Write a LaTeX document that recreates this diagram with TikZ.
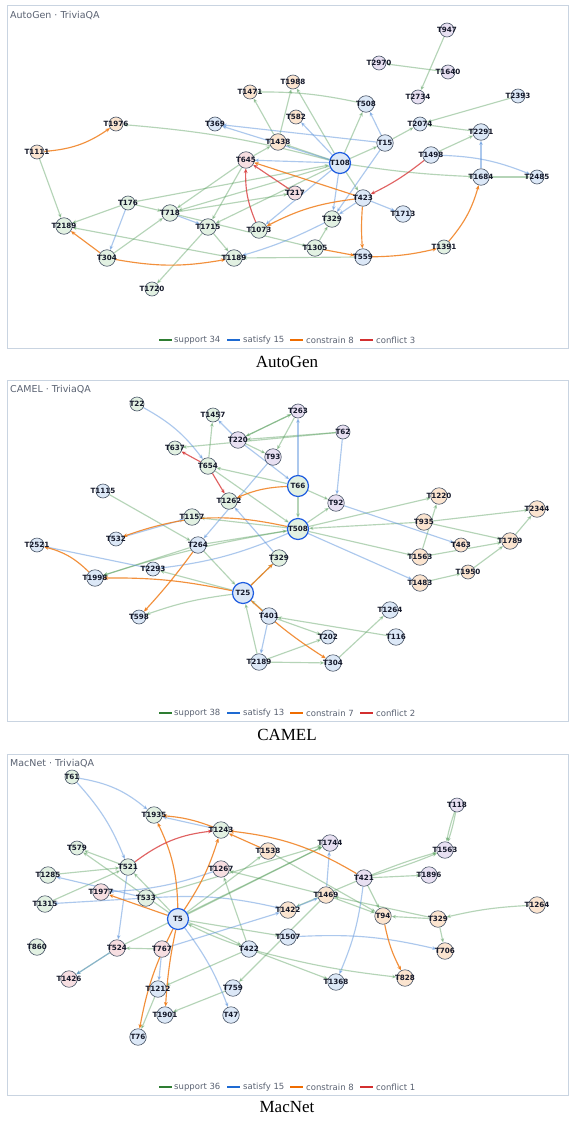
\documentclass[tikz,border=0pt]{standalone}
\usepackage{fontspec}
\usetikzlibrary{arrows.meta}
\newfontfamily\dvs{DejaVu Sans}
\newfontfamily\capf{Liberation Serif}
\definecolor{fg}{HTML}{E2F1E2}
\definecolor{fb}{HTML}{DCE8F7}
\definecolor{fo}{HTML}{FBE4CF}
\definecolor{fp}{HTML}{E8E0F2}
\definecolor{fk}{HTML}{F7DEE1}
\definecolor{ndb}{HTML}{4A5668}
\definecolor{hubb}{HTML}{1F5DE0}
\definecolor{txt}{HTML}{15192A}
\definecolor{csu}{HTML}{4F9A55}
\definecolor{csa}{HTML}{5B93DC}
\definecolor{cco}{HTML}{F07D1A}
\definecolor{ccf}{HTML}{D93B3B}
\definecolor{lsu}{HTML}{2E7D32}
\definecolor{lsa}{HTML}{1E6AD2}
\definecolor{lco}{HTML}{EF6C00}
\definecolor{lcf}{HTML}{D32F2F}
\definecolor{frm}{HTML}{C9D4E1}
\definecolor{gtx}{HTML}{5A6272}
\pgfdeclarelayer{back}
\pgfdeclarelayer{bg}
\pgfsetlayers{back,bg,main}
\tikzset{
 nd/.style={circle,draw=ndb,line width=0.6pt,minimum size=14pt,inner sep=0pt,text=txt,font=\dvs\bfseries\fontsize{7.2}{7}\selectfont},
 lg/.style={minimum size=16.5pt},
 hub/.style={draw=hubb,line width=1.2pt,minimum size=21pt},
 cg/.style={fill=fg}, cb/.style={fill=fb}, co/.style={fill=fo}, cp/.style={fill=fp}, ck/.style={fill=fk},
 edg/.style={line width=1.15pt,-{Stealth[length=4.5pt,width=3.8pt]}},
 sup/.style={edg,draw=csu,opacity=.42},
 sat/.style={edg,draw=csa,opacity=.5},
 con/.style={edg,draw=cco,opacity=.85},
 cfl/.style={edg,draw=ccf,opacity=.8},
 frame/.style={draw=frm,line width=1pt,fill=white},
 ttl/.style={anchor=base west,inner sep=0pt,text=gtx,font=\dvs\fontsize{9.5}{10}\selectfont},
 captxt/.style={inner sep=0pt,font=\capf\fontsize{17}{18}\selectfont},
 lgt/.style={anchor=west,inner sep=0pt,text=gtx,font=\dvs\fontsize{8.5}{9}\selectfont}
}
\newcommand\ND[4]{\node[nd,#1] (#2) at (#3) {\makebox[0pt]{#4}};}
\newcommand\E[4][]{\draw[#2] (#3) to[#1] (#4);}
\newcommand\legendrow[5]{%
 \draw[lsu,line width=2pt] (159,#1) -- (172,#1); \node[lgt] (lg#1a) at (174,#1) {support #2};
 \draw[lsa,line width=2pt] (227,#1) -- (240,#1); \node[lgt] (lg#1b) at (243,#1) {satisfy #3};
 \draw[lco,line width=2pt] (290,#1) -- (303,#1); \node[lgt] (lg#1c) at (306,#1) {constrain #4};
 \draw[lcf,line width=2pt] (360,#1) -- (373,#1); \node[lgt] (lg#1d) at (376,#1) {conflict #5};}
\begin{document}
\begin{tikzpicture}[x=1pt,y=-1pt]
\useasboundingbox (0,0) rectangle (574,1121);
\begin{pgfonlayer}{back}
\fill[white] (0,0) rectangle (574,1121);
\draw[frame] (7,6) rectangle (568,348);
\draw[frame] (7,380) rectangle (568,721);
\draw[frame] (7,754) rectangle (568,1095);
\end{pgfonlayer}
\node[ttl] (t1) at (10,19) {AutoGen · TriviaQA};
\node[ttl] (t2) at (10,392) {CAMEL · TriviaQA};
\node[ttl] (t3) at (10,766) {MacNet · TriviaQA};
\node[captxt] (c1) at (287,362) {AutoGen};
\node[captxt] (c2) at (287,735) {CAMEL};
\node[captxt] (c3) at (287,1107) {MacNet};
\legendrow{340}{34}{15}{8}{3}
\legendrow{713}{38}{13}{7}{2}
\legendrow{1087}{36}{15}{8}{1}

% ---------- Panel 1: AutoGen ----------
\ND{cp}{aT947}{447,30}{T947}
\ND{cp}{aT2970}{379,63}{T2970}
\ND{cp}{aT1640}{448,72}{T1640}
\ND{co}{aT1988}{293,82}{T1988}
\ND{co}{aT1471}{250,92}{T1471}
\ND{cp}{aT2734}{418,97}{T2734}
\ND{cb}{aT2393}{518,96}{T2393}
\ND{lg,cb}{aT508}{366,104}{T508}
\ND{co}{aT582}{296,117}{T582}
\ND{co}{aT1976}{116,124}{T1976}
\ND{cb}{aT369}{215,124}{T369}
\ND{cb}{aT2074}{420,124}{T2074}
\ND{lg,cb}{aT2291}{481,132}{T2291}
\ND{lg,co}{aT1438}{278,142}{T1438}
\ND{lg,cb}{aT15}{385,143}{T15}
\ND{co}{aT1111}{37,152}{T1111}
\ND{lg,cb}{aT1498}{431,155}{T1498}
\ND{lg,ck}{aT645}{246,160}{T645}
\ND{hub,cb}{aT108}{340,163}{T108}
\ND{lg,cb}{aT1684}{481,177}{T1684}
\ND{cb}{aT2485}{537,177}{T2485}
\ND{ck}{aT217}{295,193}{T217}
\ND{lg,cb}{aT423}{363,198}{T423}
\ND{cg}{aT176}{128,203}{T176}
\ND{lg,cg}{aT718}{170,213}{T718}
\ND{lg,cb}{aT1713}{403,214}{T1713}
\ND{lg,cg}{aT329}{332,219}{T329}
\ND{lg,cg}{aT2189}{64,226}{T2189}
\ND{lg,cg}{aT1715}{208,227}{T1715}
\ND{lg,cg}{aT1073}{259,230}{T1073}
\ND{lg,cg}{aT1305}{315,248}{T1305}
\ND{cg}{aT1391}{444,247}{T1391}
\ND{lg,cg}{aT304}{107,258}{T304}
\ND{lg,cg}{aT1189}{234,258}{T1189}
\ND{lg,cb}{aT559}{363,257}{T559}
\ND{cg}{aT1720}{152,289}{T1720}

% ---------- Panel 2: CAMEL ----------
\ND{cg}{bT22}{137,404}{T22}
\ND{cg}{bT1457}{213,415}{T1457}
\ND{cp}{bT263}{298,411}{T263}
\ND{cp}{bT62}{343,432}{T62}
\ND{lg,cp}{bT220}{238,440}{T220}
\ND{cg}{bT637}{175,448}{T637}
\ND{lg,cp}{bT93}{273,457}{T93}
\ND{lg,cg}{bT654}{208,466}{T654}
\ND{hub,cg}{bT66}{298,486}{T66}
\ND{cb}{bT1115}{103,491}{T1115}
\ND{lg,co}{bT1220}{439,496}{T1220}
\ND{lg,cg}{bT1262}{229,501}{T1262}
\ND{lg,cp}{bT92}{336,503}{T92}
\ND{lg,co}{bT2344}{537,509}{T2344}
\ND{lg,cg}{bT1157}{192,517}{T1157}
\ND{lg,co}{bT935}{424,522}{T935}
\ND{hub,cg}{bT508}{298,529}{T508}
\ND{cb}{bT532}{116,539}{T532}
\ND{lg,cb}{bT264}{198,545}{T264}
\ND{cb}{bT2521}{37,545}{T2521}
\ND{co}{bT463}{461,545}{T463}
\ND{lg,co}{bT1789}{510,541}{T1789}
\ND{lg,co}{bT1563}{420,557}{T1563}
\ND{lg,cg}{bT329}{279,558}{T329}
\ND{cb}{bT2293}{153,569}{T2293}
\ND{co}{bT1950}{468,572}{T1950}
\ND{lg,cb}{bT1998}{95,578}{T1998}
\ND{lg,co}{bT1483}{420,583}{T1483}
\ND{hub,cb}{bT25}{243,593}{T25}
\ND{lg,cb}{bT1264}{390,610}{T1264}
\ND{lg,cb}{bT401}{269,616}{T401}
\ND{cb}{bT598}{139,617}{T598}
\ND{cb}{bT202}{328,637}{T202}
\ND{lg,cb}{bT116}{396,637}{T116}
\ND{lg,cb}{bT2189}{259,662}{T2189}
\ND{lg,cb}{bT304}{333,663}{T304}

% ---------- Panel 3: MacNet ----------
\ND{cg}{cT61}{72,777}{T61}
\ND{cp}{cT118}{457,805}{T118}
\ND{lg,cg}{cT1935}{154,815}{T1935}
\ND{lg,cg}{cT1243}{221,830}{T1243}
\ND{lg,cp}{cT1744}{330,843}{T1744}
\ND{cg}{cT579}{77,848}{T579}
\ND{lg,cp}{cT1563}{445,850}{T1563}
\ND{lg,co}{cT1538}{268,851}{T1538}
\ND{lg,cg}{cT521}{128,867}{T521}
\ND{lg,ck}{cT1267}{221,869}{T1267}
\ND{lg,cg}{cT1285}{48,875}{T1285}
\ND{lg,cp}{cT1896}{429,875}{T1896}
\ND{lg,cp}{cT421}{364,878}{T421}
\ND{lg,ck}{cT1977}{101,892}{T1977}
\ND{lg,co}{cT1469}{326,895}{T1469}
\ND{lg,cg}{cT533}{146,898}{T533}
\ND{lg,cg}{cT1315}{45,904}{T1315}
\ND{lg,co}{cT1264}{537,905}{T1264}
\ND{lg,co}{cT1422}{288,910}{T1422}
\ND{lg,co}{cT94}{383,916}{T94}
\ND{hub,cb}{cT5}{178,919}{T5}
\ND{lg,co}{cT329}{438,919}{T329}
\ND{lg,cb}{cT1507}{288,937}{T1507}
\ND{lg,cg}{cT860}{37,947}{T860}
\ND{lg,ck}{cT524}{117,948}{T524}
\ND{lg,ck}{cT767}{162,949}{T767}
\ND{lg,cb}{cT422}{249,949}{T422}
\ND{lg,co}{cT706}{445,951}{T706}
\ND{lg,ck}{cT1426}{69,979}{T1426}
\ND{lg,co}{cT828}{405,978}{T828}
\ND{lg,cb}{cT1368}{336,982}{T1368}
\ND{lg,cb}{cT1212}{158,989}{T1212}
\ND{lg,cb}{cT759}{233,988}{T759}
\ND{lg,cb}{cT1901}{165,1015}{T1901}
\ND{lg,cb}{cT47}{231,1015}{T47}
\ND{lg,cb}{cT76}{138,1037}{T76}

\begin{pgfonlayer}{bg}
% Panel 1 edges
\E{sup}{aT947}{aT2734}
\E{sup}{aT1640}{aT2970}
\E{sup}{aT2393}{aT2074}
\E{sup}{aT2291}{aT2074}
\E{sup}{aT108}{aT15}
\E{sup}{aT15}{aT2074}
\E{sup}{aT1498}{aT2291}
\E[bend right=3]{sup}{aT108}{aT1684}
\E{sup}{aT1684}{aT2485}
\E[bend right=6]{sup}{aT508}{aT1471}
\E{sup}{aT1438}{aT1471}
\E{sup}{aT1438}{aT1988}
\E{sup}{aT108}{aT1988}
\E{sup}{aT108}{aT508}
\E{sup}{aT108}{aT1438}
\E[bend right=5]{sup}{aT108}{aT1976}
\E{sup}{aT1111}{aT2189}
\E{sup}{aT176}{aT2189}
\E{sup}{aT176}{aT718}
\E{sup}{aT304}{aT718}
\E{sup}{aT1189}{aT2189}
\E{sup}{aT1715}{aT1189}
\E{sup}{aT1715}{aT1720}
\E{sup}{aT645}{aT1715}
\E{sup}{aT108}{aT1715}
\E{sup}{aT645}{aT718}
\E{sup}{aT176}{aT108}
\E{sup}{aT718}{aT217}
\E{sup}{aT718}{aT1305}
\E{sup}{aT1305}{aT329}
\E{sup}{aT108}{aT423}
\E{sup}{aT559}{aT1189}
\E{sup}{aT645}{aT1438}
\E{sup}{aT108}{aT718}
\E{sat}{aT108}{aT369}
\E{sat}{aT15}{aT369}
\E{sat}{aT108}{aT582}
\E{sat}{aT15}{aT508}
\E{sat}{aT1684}{aT2291}
\E[bend left=10]{sat}{aT1498}{aT2485}
\E{sat}{aT176}{aT304}
\E{sat}{aT718}{aT1715}
\E[bend left=5]{sat}{aT329}{aT1189}
\E{sat}{aT15}{aT329}
\E{sat}{aT108}{aT329}
\E{sat}{aT423}{aT329}
\E{sat}{aT423}{aT1713}
\E{sat}{aT108}{aT1073}
\E{sat}{aT108}{aT645}
\E[bend right=15]{con}{aT1111}{aT1976}
\E{con}{aT304}{aT2189}
\E[bend right=10]{con}{aT304}{aT1189}
\E[bend right=4]{con}{aT423}{aT559}
\E[bend right=6]{con}{aT559}{aT1391}
\E[bend right=12]{con}{aT1391}{aT1684}
\E{con}{aT423}{aT645}
\E[bend right=10]{con}{aT423}{aT1073}
\E{con}{aT1305}{aT559}
\E[bend left=6]{cfl}{aT1498}{aT423}
\E{cfl}{aT217}{aT645}
\E[bend left=12]{cfl}{aT1073}{aT645}

% Panel 2 edges
\E{sup}{bT62}{bT220}
\E{sup}{bT62}{bT637}
\E{sup}{bT220}{bT263}
\E{sup}{bT263}{bT93}
\E{sup}{bT263}{bT220}
\E{sup}{bT654}{bT1457}
\E{sup}{bT220}{bT93}
\E{sup}{bT66}{bT654}
\E{sup}{bT654}{bT508}
\E{sup}{bT66}{bT92}
\E{sup}{bT66}{bT508}
\E{sup}{bT508}{bT92}
\E{sup}{bT508}{bT1220}
\E{sup}{bT935}{bT2344}
\E{sup}{bT935}{bT1789}
\E{sup}{bT935}{bT508}
\E{sup}{bT508}{bT1157}
\E{sup}{bT1563}{bT1220}
\E{sup}{bT1563}{bT1789}
\E{sup}{bT1950}{bT1789}
\E{sup}{bT1789}{bT2344}
\E{sup}{bT1483}{bT1950}
\E{sup}{bT508}{bT1563}
\E{sup}{bT1115}{bT264}
\E{sup}{bT264}{bT25}
\E{sup}{bT264}{bT1998}
\E{sup}{bT25}{bT2293}
\E[bend right=4]{sup}{bT508}{bT1998}
\E[bend right=6]{sup}{bT25}{bT598}
\E{sup}{bT25}{bT329}
\E{sup}{bT401}{bT25}
\E{sup}{bT2189}{bT25}
\E{sup}{bT401}{bT202}
\E{sup}{bT2189}{bT202}
\E{sup}{bT2189}{bT304}
\E{sup}{bT116}{bT401}
\E{sup}{bT304}{bT1264}
\E{sup}{bT264}{bT508}
\E[bend left=12]{sat}{bT22}{bT654}
\E{sat}{bT62}{bT92}
\E{sat}{bT66}{bT263}
\E{sat}{bT93}{bT264}
\E{sat}{bT329}{bT1262}
\E{sat}{bT532}{bT1157}
\E[bend left=8]{sat}{bT508}{bT2293}
\E{sat}{bT92}{bT463}
\E{sat}{bT508}{bT1483}
\E{sat}{bT401}{bT2189}
\E{sat}{bT220}{bT66}
\E{sat}{bT220}{bT1457}
\E{sat}{bT2293}{bT2521}
\E[bend right=10]{con}{bT66}{bT1262}
\E[bend right=16]{con}{bT508}{bT532}
\E[bend right=15]{con}{bT1998}{bT2521}
\E[bend right=6]{con}{bT25}{bT1998}
\E[bend left=3]{con}{bT264}{bT598}
\E{con}{bT25}{bT329}
\E[bend right=5]{con}{bT25}{bT304}
\E{cfl}{bT654}{bT637}
\E{cfl}{bT654}{bT1262}

% Panel 3 edges
\E[bend left=4]{sup}{cT118}{cT1563}
\E[bend right=4]{sup}{cT118}{cT1563}
\E[bend left=3]{sup}{cT421}{cT1563}
\E[bend right=3]{sup}{cT421}{cT1563}
\E{sup}{cT421}{cT1896}
\E[bend right=5]{sup}{cT1264}{cT329}
\E{sup}{cT329}{cT94}
\E{sup}{cT329}{cT706}
\E{sup}{cT329}{cT1469}
\E{sup}{cT1469}{cT94}
\E{sup}{cT421}{cT94}
\E{sup}{cT421}{cT1422}
\E{sup}{cT5}{cT1744}
\E{sup}{cT533}{cT1744}
\E{sup}{cT5}{cT1538}
\E{sup}{cT1469}{cT1267}
\E{sup}{cT521}{cT579}
\E{sup}{cT1285}{cT521}
\E{sup}{cT1315}{cT521}
\E{sup}{cT5}{cT521}
\E{sup}{cT5}{cT579}
\E[bend left=4]{sup}{cT422}{cT5}
\E[bend left=4]{sup}{cT5}{cT422}
\E{sup}{cT5}{cT1507}
\E{sup}{cT767}{cT524}
\E{sup}{cT524}{cT1426}
\E{sup}{cT422}{cT1212}
\E{sup}{cT1469}{cT759}
\E{sup}{cT759}{cT1901}
\E{sup}{cT1212}{cT76}
\E{sup}{cT422}{cT1368}
\E[bend right=4]{sup}{cT422}{cT828}
\E{sup}{cT422}{cT1267}
\E{sup}{cT524}{cT1744}
\E{sup}{cT1538}{cT94}
\E[bend left=15]{sat}{cT61}{cT1935}
\E[bend left=10]{sat}{cT61}{cT521}
\E{sat}{cT1243}{cT1935}
\E[bend left=8]{sat}{cT1267}{cT1977}
\E{sat}{cT533}{cT1285}
\E{sat}{cT533}{cT1315}
\E[bend left=8]{sat}{cT533}{cT1422}
\E{sat}{cT521}{cT524}
\E[bend left=8]{sat}{cT5}{cT47}
\E{sat}{cT767}{cT1212}
\E{sat}{cT767}{cT1422}
\E{sat}{cT524}{cT1426}
\E[bend left=8]{sat}{cT1507}{cT706}
\E[bend left=8]{sat}{cT421}{cT1368}
\E{sat}{cT1469}{cT1744}
\E{sat}{cT1422}{cT1469}
\E[bend right=12]{con}{cT5}{cT1935}
\E[bend right=8]{con}{cT5}{cT1243}
\E{con}{cT1538}{cT1243}
\E[bend right=12]{con}{cT421}{cT1243}
\E[bend right=8]{con}{cT1243}{cT1935}
\E{con}{cT5}{cT1977}
\E[bend right=8]{con}{cT5}{cT76}
\E[bend right=4]{con}{cT5}{cT1901}
\E[bend right=8]{con}{cT94}{cT828}
\E[bend left=15]{cfl}{cT521}{cT1243}
\end{pgfonlayer}
\end{tikzpicture}
\end{document}
